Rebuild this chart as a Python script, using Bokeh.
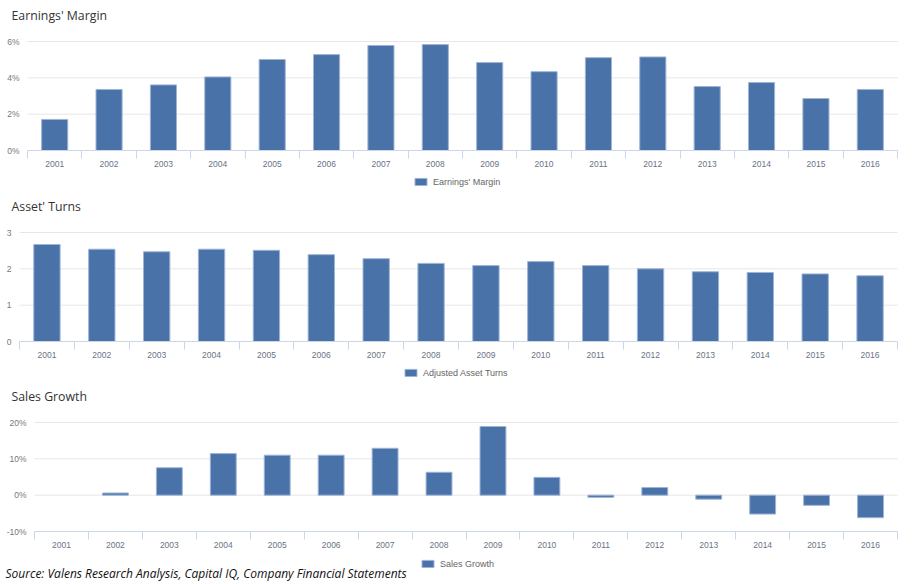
import numpy as np
from bokeh.plotting import figure
from bokeh.layouts import column
from bokeh.models import (Range1d, FixedTicker, Legend, LegendItem, Label,
                          PrintfTickFormatter, ColumnDataSource)
from bokeh.core.properties import value
from bokeh.embed import file_html
from bokeh.resources import INLINE

years = [str(y) for y in range(2001, 2017)]
earnings_margin = [1.71, 3.36, 3.61, 4.05, 5.01, 5.28, 5.78, 5.83, 4.84, 4.34,
                   5.11, 5.15, 3.52, 3.74, 2.86, 3.36]
asset_turns = [2.67, 2.54, 2.47, 2.54, 2.51, 2.39, 2.28, 2.15, 2.09, 2.20,
               2.09, 2.00, 1.92, 1.90, 1.86, 1.81]
sales_growth = [None, 0.6, 7.55, 11.45, 11.0, 11.0, 12.9, 6.3, 18.9, 4.9,
                -0.6, 2.1, -1.1, -5.2, -2.8, -6.2]

titles = ["Earnings' Margin", "Asset' Turns", "Sales Growth"]
legend_labels = ["Earnings' Margin", "Adjusted Asset Turns", "Sales Growth"]
y_ticks = [[0, 2, 4, 6], [0, 1, 2, 3], [-10, 0, 10, 20]]
y_formats = ["%d%%", "%d", "%d%%"]
y_ranges = [(0, 6), (0, 3), (-10, 20)]
source_text = "Source: Valens Research Analysis, Capital IQ, Company Financial Statements"

BAR = "#4872a8"
EDGE = "#9fb4d6"
AXIS = "#ccd6eb"
GRID = "#e6e6e6"
W = 906


def make_fig(title, values, ticks, fmt, yr, leg_label, top, height,
             px_left, px_ytop, px_ybot, title_y, leg_x, leg_y):
    """px_* are page pixel positions of the plotting area edges."""
    n = len(years)
    unit_x = (897 - px_left) / n
    x0 = 0.5 - px_left / unit_x
    x1 = n + 0.5 + (W - 897) / unit_x
    unit_y = (px_ybot - px_ytop) / (yr[1] - yr[0])
    y1 = yr[1] + (px_ytop - top) / unit_y
    y0 = yr[0] - (top + height - px_ybot) / unit_y

    p = figure(width=W, height=height, x_range=Range1d(x0, x1),
               y_range=Range1d(y0, y1), output_backend="svg",
               toolbar_location=None, min_border=0)
    p.outline_line_color = None
    p.background_fill_color = "white"
    p.border_fill_color = "white"
    p.xgrid.visible = False
    p.ygrid.visible = False

    # horizontal grid lines at the y ticks, across the category span
    p.segment(x0=[0.5] * len(ticks), x1=[n + 0.5] * len(ticks), y0=ticks, y1=ticks,
              line_color=GRID, line_width=1)

    vals = np.array([np.nan if v is None else v for v in values], dtype=float)
    src = ColumnDataSource(dict(x=np.arange(1, n + 1), top=vals))
    r = p.vbar(x="x", top="top", bottom=0, width=0.48, source=src,
               fill_color=BAR, line_color=EDGE, line_width=1)

    # x axis drawn at the bottom of the value range
    xa = p.xaxis[0]
    xa.fixed_location = yr[0]
    xa.bounds = (0.5, n + 0.5)
    xa.ticker = FixedTicker(ticks=list(range(1, n + 1)),
                            minor_ticks=[i + 0.5 for i in range(0, n + 1)])
    xa.major_label_overrides = {i + 1: y for i, y in enumerate(years)}
    xa.axis_line_color = AXIS
    xa.major_tick_line_color = None
    xa.major_tick_out = 0
    xa.major_tick_in = 0
    xa.minor_tick_line_color = AXIS
    xa.minor_tick_out = 8
    xa.minor_tick_in = 0
    xa.major_label_standoff = 2
    xa.major_label_text_font = "Liberation Sans"
    xa.major_label_text_font_size = "8.5px"
    xa.major_label_text_color = "#6a7385"

    # y axis at the left edge of the category span
    ya = p.yaxis[0]
    ya.fixed_location = 0.5
    ya.ticker = FixedTicker(ticks=ticks)
    ya.formatter = PrintfTickFormatter(format=fmt)
    ya.axis_line_color = None
    ya.major_tick_line_color = None
    ya.minor_tick_line_color = None
    ya.major_label_standoff = 2
    ya.major_label_text_font = "Liberation Sans"
    ya.major_label_text_font_size = "8.5px"
    ya.major_label_text_color = "#777777"

    t = Label(x=11, y=top + height - title_y, x_units="screen", y_units="screen",
              text=title, text_font="Open Sans", text_font_size="12.3px",
              text_color="#333333", text_baseline="middle", text_align="left")
    p.add_layout(t)

    leg = Legend(items=[LegendItem(label=value(leg_label), renderers=[r])],
                 location=(leg_x, top + height - leg_y), orientation="horizontal",
                 border_line_color=None, background_fill_alpha=0,
                 glyph_width=15, glyph_height=9, label_standoff=5,
                 label_text_font="Liberation Sans", label_text_font_size="9px",
                 label_text_color="#666666", padding=0, margin=0, spacing=0)
    p.add_layout(leg)
    return p


p1 = make_fig(titles[0], earnings_margin, y_ticks[0], y_formats[0], y_ranges[0],
              legend_labels[0], 0, 191, 27, 41, 150, 15, 413, 186.5)
p2 = make_fig(titles[1], asset_turns, y_ticks[1], y_formats[1], y_ranges[1],
              legend_labels[1], 191, 190, 19, 232, 341, 206, 403, 377.5)
p3 = make_fig(titles[2], sales_growth, y_ticks[2], y_formats[2], y_ranges[2],
              legend_labels[2], 381, 200, 34, 422, 531, 396, 420, 568.5)

src_label = Label(x=5, y=581 - 573, x_units="screen", y_units="screen",
                  text=source_text, text_font="Open Sans", text_font_style="italic",
                  text_font_size="12px", text_color="#111111",
                  text_baseline="middle", text_align="left")
p3.add_layout(src_label)

layout = column(p1, p2, p3, spacing=0)
open("out.html", "w").write(file_html(layout, INLINE))
